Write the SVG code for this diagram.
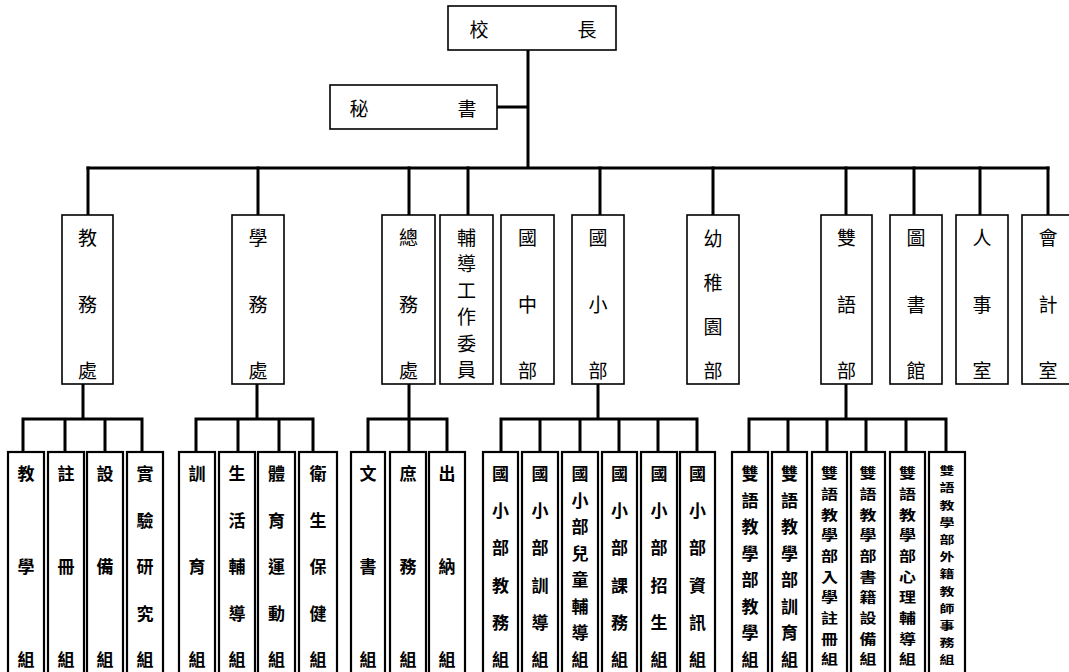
<svg xmlns="http://www.w3.org/2000/svg" width="1069" height="672" viewBox="0 0 1069 672">
<style>
.bg{fill:#fff}
.box{fill:#fff;stroke:#000;stroke-width:1.6}
.sub{fill:#fff;stroke:#000;stroke-width:2.2}
.ln{fill:none;stroke:#000;stroke-width:3;stroke-linecap:square}
text{font-family:"Noto Sans CJK TC","Noto Sans CJK SC",sans-serif;fill:#000;text-anchor:middle;dominant-baseline:central}
.t1{font-size:19px}
.t2{font-size:19px}
.t3{font-size:17px;font-weight:700}
.t4{font-size:15px;font-weight:700}
</style>
<rect class="bg" x="0" y="0" width="1069" height="672"/>
<g id="connectors">
<path class="ln" d="M528 50V168M497 107H528M88 168H1048"/>
<path class="ln" d="M88 168V215M258 168V215M409 168V215M468 168V215M600 168V215M713 168V215M846 168V215M914 168V215M980 168V215M1048 168V215"/>
<path class="ln" d="M83 384V419M23 419H142M23 419V452M65 419V452M105 419V452M142 419V452"/>
<path class="ln" d="M257 384V419M196 419H313M196 419V452M238 419V452M279 419V452M313 419V452"/>
<path class="ln" d="M409 384V419M368 419H447M368 419V452M409 419V452M447 419V452"/>
<path class="ln" d="M598 384V419M501 419H697M501 419V452M540 419V452M580 419V452M619 419V452M658 419V452M697 419V452"/>
<path class="ln" d="M846 384V419M749 419H946M749 419V452M788 419V452M827 419V452M866 419V452M906 419V452M946 419V452"/>
</g>
<g id="principal"><rect class="box" x="448" y="6" width="168" height="44"/><text class="t1" x="479" y="28">校</text><text class="t1" x="587" y="28">長</text></g>
<g id="secretary"><rect class="box" x="330" y="85" width="167" height="44"/><text class="t1" x="359" y="107">秘</text><text class="t1" x="467" y="107">書</text></g>

<g id="n-academic"><rect class="box" x="62" y="215" width="51" height="169"/><text class="t2"><tspan x="87.5" y="236">教</tspan><tspan x="87.5" y="303">務</tspan><tspan x="87.5" y="369">處</tspan></text></g>
<g id="n-student"><rect class="box" x="232" y="215" width="52" height="169"/><text class="t2"><tspan x="258" y="236">學</tspan><tspan x="258" y="303">務</tspan><tspan x="258" y="369">處</tspan></text></g>
<g id="n-general"><rect class="box" x="382" y="215" width="53" height="169"/><text class="t2"><tspan x="408.5" y="236">總</tspan><tspan x="408.5" y="303">務</tspan><tspan x="408.5" y="369">處</tspan></text></g>
<g id="n-counsel"><rect class="box" x="440" y="215" width="53" height="169"/><text class="t2"><tspan x="466.5" y="236">輔</tspan><tspan x="466.5" y="262.4">導</tspan><tspan x="466.5" y="288.8">工</tspan><tspan x="466.5" y="315.2">作</tspan><tspan x="466.5" y="341.6">委</tspan><tspan x="466.5" y="368">員</tspan></text></g>
<g id="n-junior"><rect class="box" x="501" y="215" width="53" height="169"/><text class="t2"><tspan x="527.5" y="236">國</tspan><tspan x="527.5" y="303">中</tspan><tspan x="527.5" y="369">部</tspan></text></g>
<g id="n-primary"><rect class="box" x="572" y="215" width="52" height="169"/><text class="t2"><tspan x="598" y="236">國</tspan><tspan x="598" y="303">小</tspan><tspan x="598" y="369">部</tspan></text></g>
<g id="n-kinder"><rect class="box" x="687" y="215" width="52" height="169"/><text class="t2"><tspan x="713" y="237">幼</tspan><tspan x="713" y="281">稚</tspan><tspan x="713" y="325">園</tspan><tspan x="713" y="369">部</tspan></text></g>
<g id="n-bilingual"><rect class="box" x="821" y="215" width="51" height="169"/><text class="t2"><tspan x="846.5" y="236">雙</tspan><tspan x="846.5" y="303">語</tspan><tspan x="846.5" y="369">部</tspan></text></g>
<g id="n-library"><rect class="box" x="890" y="215" width="52" height="169"/><text class="t2"><tspan x="916" y="236">圖</tspan><tspan x="916" y="303">書</tspan><tspan x="916" y="369">館</tspan></text></g>
<g id="n-personnel"><rect class="box" x="956" y="215" width="52" height="169"/><text class="t2"><tspan x="982" y="236">人</tspan><tspan x="982" y="303">事</tspan><tspan x="982" y="369">室</tspan></text></g>
<g id="n-accounting"><rect class="box" x="1022" y="215" width="52" height="169"/><text class="t2"><tspan x="1048" y="236">會</tspan><tspan x="1048" y="303">計</tspan><tspan x="1048" y="369">室</tspan></text></g>

<g id="s-a1"><rect class="sub" x="8" y="452" width="36" height="240"/><text class="t3"><tspan x="26" y="472">教</tspan><tspan x="26" y="565">學</tspan><tspan x="26" y="658">組</tspan></text></g>
<g id="s-a2"><rect class="sub" x="48" y="452" width="36" height="240"/><text class="t3"><tspan x="66" y="472">註</tspan><tspan x="66" y="565">冊</tspan><tspan x="66" y="658">組</tspan></text></g>
<g id="s-a3"><rect class="sub" x="87" y="452" width="36" height="240"/><text class="t3"><tspan x="105" y="472">設</tspan><tspan x="105" y="565">備</tspan><tspan x="105" y="658">組</tspan></text></g>
<g id="s-a4"><rect class="sub" x="127" y="452" width="36" height="240"/><text class="t3"><tspan x="145" y="472">實</tspan><tspan x="145" y="518.5">驗</tspan><tspan x="145" y="565">研</tspan><tspan x="145" y="611.5">究</tspan><tspan x="145" y="658">組</tspan></text></g>

<g id="s-b1"><rect class="sub" x="179" y="452" width="36" height="240"/><text class="t3"><tspan x="197" y="472">訓</tspan><tspan x="197" y="565">育</tspan><tspan x="197" y="658">組</tspan></text></g>
<g id="s-b2"><rect class="sub" x="219" y="452" width="36" height="240"/><text class="t3"><tspan x="237" y="472">生</tspan><tspan x="237" y="518.5">活</tspan><tspan x="237" y="565">輔</tspan><tspan x="237" y="611.5">導</tspan><tspan x="237" y="658">組</tspan></text></g>
<g id="s-b3"><rect class="sub" x="258" y="452" width="37" height="240"/><text class="t3"><tspan x="276.5" y="472">體</tspan><tspan x="276.5" y="518.5">育</tspan><tspan x="276.5" y="565">運</tspan><tspan x="276.5" y="611.5">動</tspan><tspan x="276.5" y="658">組</tspan></text></g>
<g id="s-b4"><rect class="sub" x="299" y="452" width="38" height="240"/><text class="t3"><tspan x="318" y="472">衛</tspan><tspan x="318" y="518.5">生</tspan><tspan x="318" y="565">保</tspan><tspan x="318" y="611.5">健</tspan><tspan x="318" y="658">組</tspan></text></g>

<g id="s-c1"><rect class="sub" x="351" y="452" width="34" height="240"/><text class="t3"><tspan x="368" y="472">文</tspan><tspan x="368" y="565">書</tspan><tspan x="368" y="658">組</tspan></text></g>
<g id="s-c2"><rect class="sub" x="390" y="452" width="36" height="240"/><text class="t3"><tspan x="408" y="472">庶</tspan><tspan x="408" y="565">務</tspan><tspan x="408" y="658">組</tspan></text></g>
<g id="s-c3"><rect class="sub" x="429" y="452" width="36" height="240"/><text class="t3"><tspan x="447" y="472">出</tspan><tspan x="447" y="565">納</tspan><tspan x="447" y="658">組</tspan></text></g>

<g id="s-d1"><rect class="sub" x="483" y="452" width="35" height="240"/><text class="t3"><tspan x="500.5" y="472">國</tspan><tspan x="500.5" y="509.2">小</tspan><tspan x="500.5" y="546.4">部</tspan><tspan x="500.5" y="583.6">教</tspan><tspan x="500.5" y="620.8">務</tspan><tspan x="500.5" y="658">組</tspan></text></g>
<g id="s-d2"><rect class="sub" x="522" y="452" width="36" height="240"/><text class="t3"><tspan x="540" y="472">國</tspan><tspan x="540" y="509.2">小</tspan><tspan x="540" y="546.4">部</tspan><tspan x="540" y="583.6">訓</tspan><tspan x="540" y="620.8">導</tspan><tspan x="540" y="658">組</tspan></text></g>
<g id="s-d3"><rect class="sub" x="562" y="452" width="36" height="240"/><text class="t3"><tspan x="580" y="472">國</tspan><tspan x="580" y="498.6">小</tspan><tspan x="580" y="525.1">部</tspan><tspan x="580" y="551.7">兒</tspan><tspan x="580" y="578.3">童</tspan><tspan x="580" y="604.9">輔</tspan><tspan x="580" y="631.4">導</tspan><tspan x="580" y="658">組</tspan></text></g>
<g id="s-d4"><rect class="sub" x="602" y="452" width="35" height="240"/><text class="t3"><tspan x="619.5" y="472">國</tspan><tspan x="619.5" y="509.2">小</tspan><tspan x="619.5" y="546.4">部</tspan><tspan x="619.5" y="583.6">課</tspan><tspan x="619.5" y="620.8">務</tspan><tspan x="619.5" y="658">組</tspan></text></g>
<g id="s-d5"><rect class="sub" x="641" y="452" width="36" height="240"/><text class="t3"><tspan x="659" y="472">國</tspan><tspan x="659" y="509.2">小</tspan><tspan x="659" y="546.4">部</tspan><tspan x="659" y="583.6">招</tspan><tspan x="659" y="620.8">生</tspan><tspan x="659" y="658">組</tspan></text></g>
<g id="s-d6"><rect class="sub" x="680" y="452" width="35" height="240"/><text class="t3"><tspan x="697.5" y="472">國</tspan><tspan x="697.5" y="509.2">小</tspan><tspan x="697.5" y="546.4">部</tspan><tspan x="697.5" y="583.6">資</tspan><tspan x="697.5" y="620.8">訊</tspan><tspan x="697.5" y="658">組</tspan></text></g>

<g id="s-e1"><rect class="sub" x="732" y="452" width="36" height="240"/><text class="t3"><tspan x="750" y="472">雙</tspan><tspan x="750" y="498.6">語</tspan><tspan x="750" y="525.1">教</tspan><tspan x="750" y="551.7">學</tspan><tspan x="750" y="578.3">部</tspan><tspan x="750" y="604.9">教</tspan><tspan x="750" y="631.4">學</tspan><tspan x="750" y="658">組</tspan></text></g>
<g id="s-e2"><rect class="sub" x="772" y="452" width="35" height="240"/><text class="t3"><tspan x="789.5" y="472">雙</tspan><tspan x="789.5" y="498.6">語</tspan><tspan x="789.5" y="525.1">教</tspan><tspan x="789.5" y="551.7">學</tspan><tspan x="789.5" y="578.3">部</tspan><tspan x="789.5" y="604.9">訓</tspan><tspan x="789.5" y="631.4">育</tspan><tspan x="789.5" y="658">組</tspan></text></g>
<g id="s-e3"><rect class="sub" x="812" y="452" width="35" height="240"/><text class="t3" transform="matrix(1 0 0 0.82 0 0)"><tspan x="829.5" y="575.61">雙</tspan><tspan x="829.5" y="600.85">語</tspan><tspan x="829.5" y="625.98">教</tspan><tspan x="829.5" y="651.22">學</tspan><tspan x="829.5" y="676.46">部</tspan><tspan x="829.5" y="701.59">入</tspan><tspan x="829.5" y="726.83">學</tspan><tspan x="829.5" y="752.07">註</tspan><tspan x="829.5" y="777.2">冊</tspan><tspan x="829.5" y="802.44">組</tspan></text></g>
<g id="s-e4"><rect class="sub" x="851" y="452" width="34" height="240"/><text class="t3" transform="matrix(1 0 0 0.82 0 0)"><tspan x="868" y="575.61">雙</tspan><tspan x="868" y="600.85">語</tspan><tspan x="868" y="625.98">教</tspan><tspan x="868" y="651.22">學</tspan><tspan x="868" y="676.46">部</tspan><tspan x="868" y="701.59">書</tspan><tspan x="868" y="726.83">籍</tspan><tspan x="868" y="752.07">設</tspan><tspan x="868" y="777.2">備</tspan><tspan x="868" y="802.44">組</tspan></text></g>
<g id="s-e5"><rect class="sub" x="890" y="452" width="35" height="240"/><text class="t3" transform="matrix(1 0 0 0.82 0 0)"><tspan x="907.5" y="575.61">雙</tspan><tspan x="907.5" y="600.85">語</tspan><tspan x="907.5" y="625.98">教</tspan><tspan x="907.5" y="651.22">學</tspan><tspan x="907.5" y="676.46">部</tspan><tspan x="907.5" y="701.59">心</tspan><tspan x="907.5" y="726.83">理</tspan><tspan x="907.5" y="752.07">輔</tspan><tspan x="907.5" y="777.2">導</tspan><tspan x="907.5" y="802.44">組</tspan></text></g>
<g id="s-e6"><rect class="sub" x="929" y="452" width="36" height="240"/><text class="t4" transform="matrix(1 0 0 0.78 0 0)"><tspan x="947" y="602.56">雙</tspan><tspan x="947" y="624.62">語</tspan><tspan x="947" y="646.67">教</tspan><tspan x="947" y="668.59">學</tspan><tspan x="947" y="690.64">部</tspan><tspan x="947" y="712.69">外</tspan><tspan x="947" y="734.74">籍</tspan><tspan x="947" y="756.79">教</tspan><tspan x="947" y="778.85">師</tspan><tspan x="947" y="800.77">事</tspan><tspan x="947" y="822.82">務</tspan><tspan x="947" y="844.87">組</tspan></text></g>
</svg>
